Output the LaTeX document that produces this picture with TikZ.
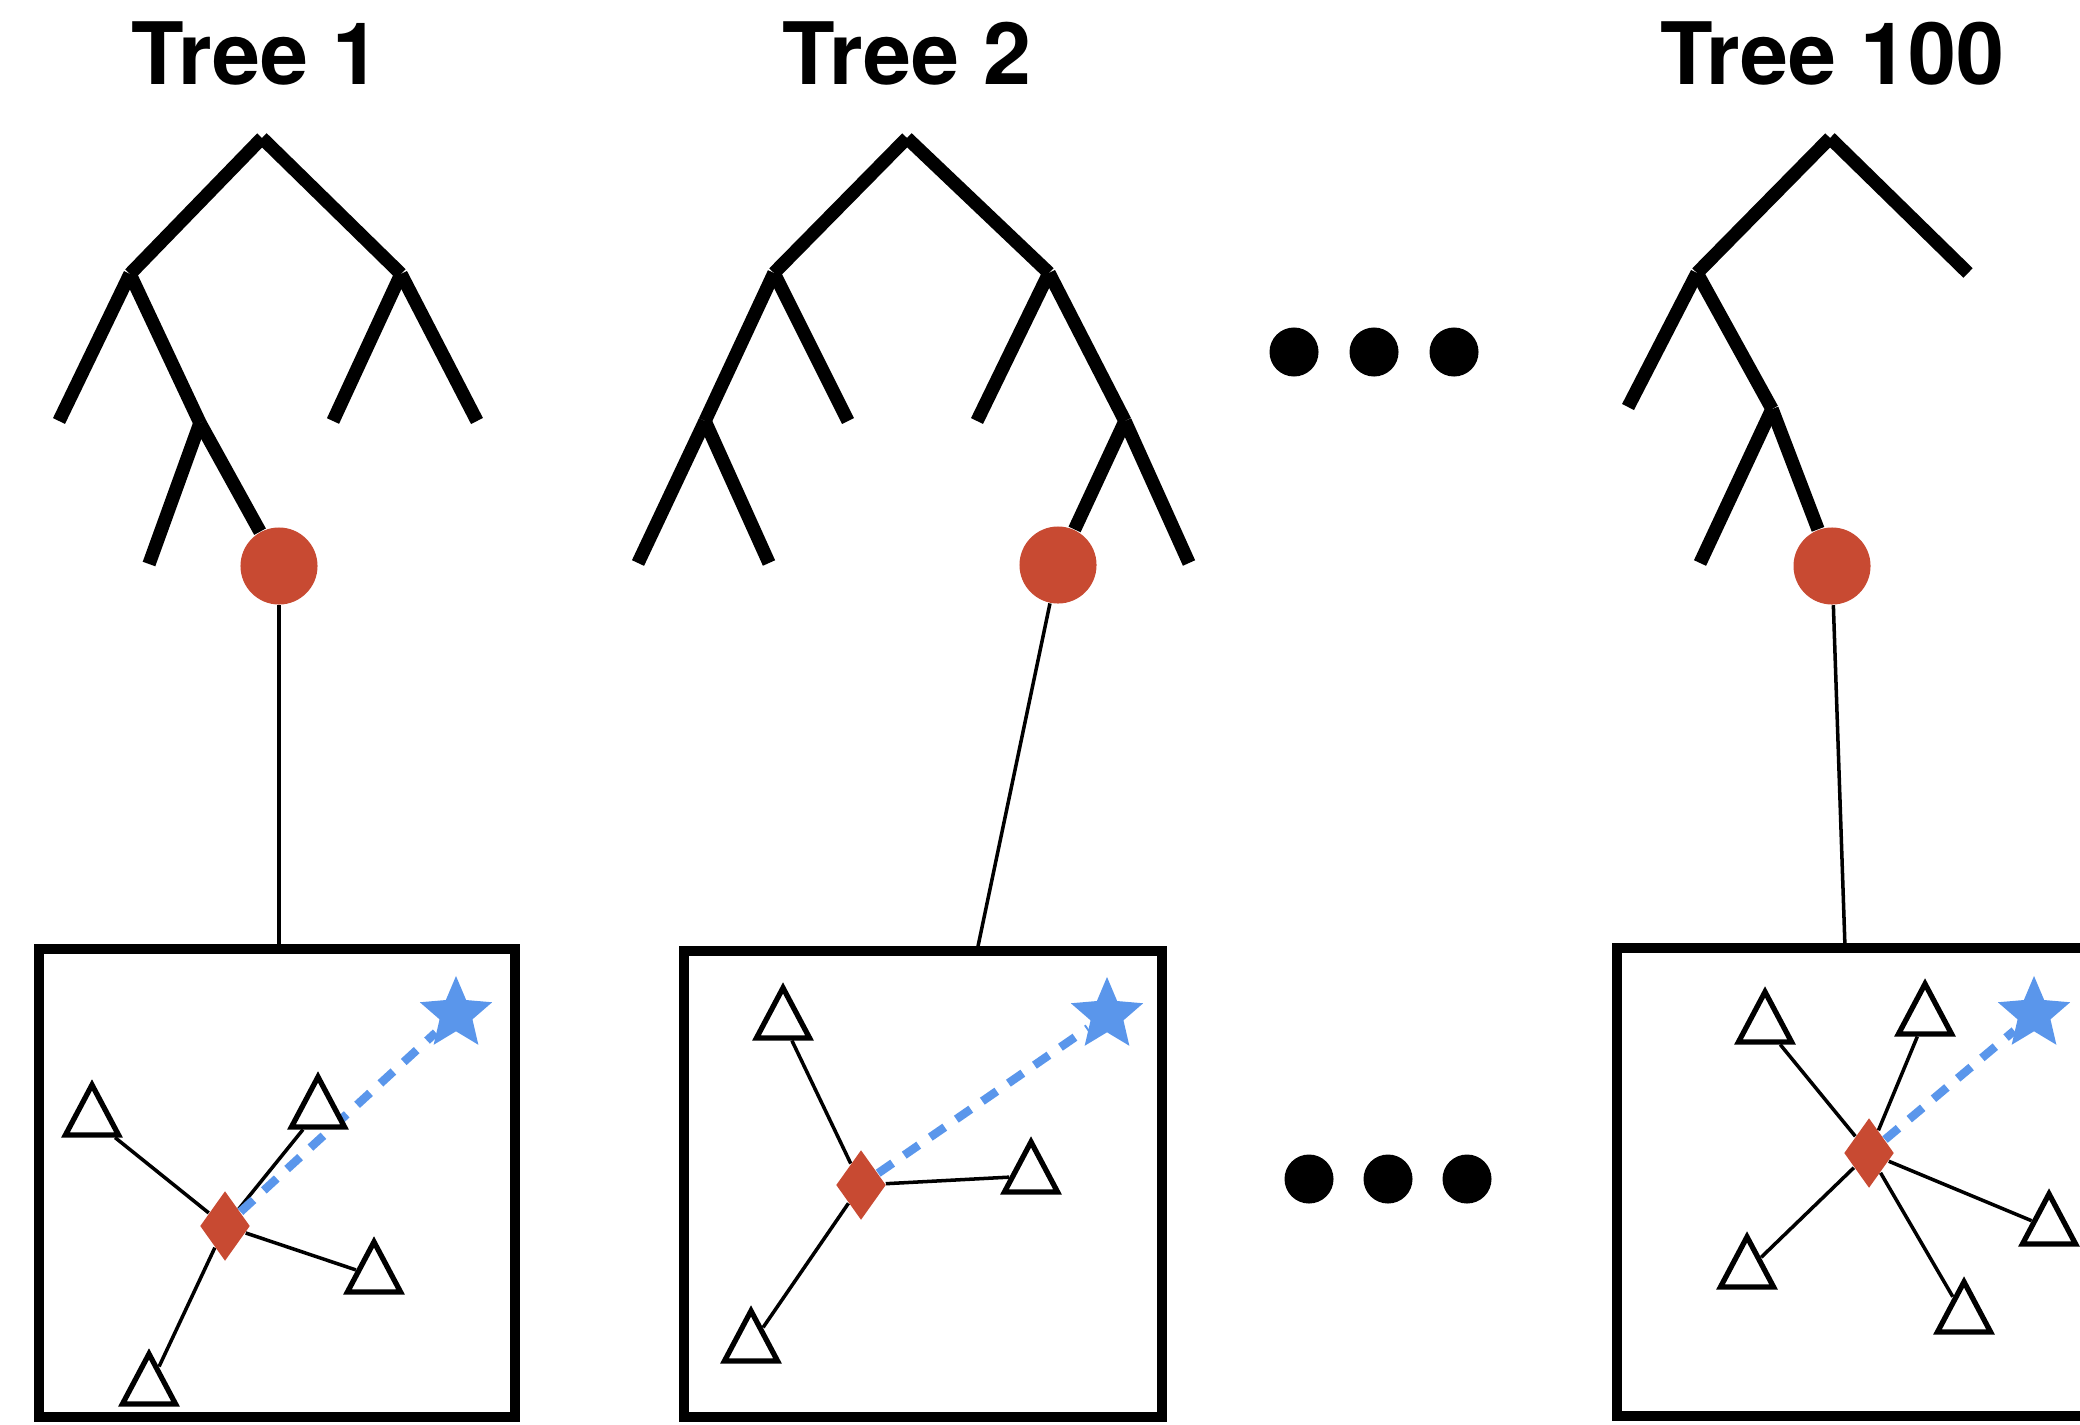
\documentclass[tikz,border=0pt]{standalone}
\usepackage{fontspec}
\setmainfont{TeX Gyre Heros}
\usetikzlibrary{shapes.geometric,backgrounds}
\definecolor{nodered}{RGB}{200,74,50}
\definecolor{starblue}{RGB}{90,150,235}
\begin{document}
\begin{tikzpicture}[x=0.01cm, y=-0.01cm,
  treeedge/.style={line width=3.8pt, line cap=butt},
  link/.style={line width=1pt},
  nnode/.style={circle, fill=nodered, minimum size=0.77cm, inner sep=0pt},
  fbox/.style={draw, line width=2.9pt, inner sep=0pt},
  tri/.style={isosceles triangle, shape border rotate=90, isosceles triangle stretches,
    minimum width=0.53cm, minimum height=0.5cm, inner sep=0pt, draw, fill=white,
    line width=1.5pt, anchor=apex},
  dia/.style={diamond, fill=nodered, minimum width=0.5cm, minimum height=0.7cm, inner sep=0pt},
  starst/.style={star, star points=5, star point ratio=2.2, fill=starblue, minimum size=0.76cm, inner sep=0pt},
  dashlink/.style={draw=starblue, line width=2.4pt, dash pattern=on 5pt off 4pt},
  dotst/.style={circle, fill=black, minimum size=0.49cm, inner sep=0pt},
  title/.style={anchor=base, font=\fontsize{24.5pt}{29pt}\selectfont\bfseries, inner sep=0pt}]
\useasboundingbox (0,0) rectangle (2080,1424);
\begin{scope}
\clip (0,0) rectangle (2080,1424);

% titles
\node[title] (h1) at (256,84) {Tree 1};
\node[title] (h2) at (907,84) {Tree 2};
\node[title] (h3) at (1832,84) {Tree 100};

% ---------- Tree 1 ----------
\coordinate (r1) at (262,138);
\coordinate (a1) at (130,274);
\coordinate (b1n) at (401,274);
\coordinate (l1) at (59,421);
\coordinate (m1) at (200,423);
\coordinate (l2) at (149,564);
\coordinate (l3) at (333,421);
\coordinate (l4) at (477,421);
\draw[treeedge] (r1) -- (a1);
\draw[treeedge] (r1) -- (b1n);
\draw[treeedge] (a1) -- (l1);
\draw[treeedge] (a1) -- (m1);
\draw[treeedge] (m1) -- (l2);
\draw[treeedge] (b1n) -- (l3);
\draw[treeedge] (b1n) -- (l4);
\node[nnode] (c1) at (279,566) {};
\draw[treeedge] (m1) -- (c1);

% ---------- Tree 2 ----------
\coordinate (r2) at (907,138);
\coordinate (a2) at (774,273);
\coordinate (b2n) at (1049,273);
\coordinate (m2a) at (705,421);
\coordinate (l5) at (848,421);
\coordinate (l6) at (638,563);
\coordinate (l7) at (769,563);
\coordinate (l8) at (977,421);
\coordinate (m2b) at (1125,421);
\coordinate (l9) at (1189,563);
\draw[treeedge] (r2) -- (a2);
\draw[treeedge] (r2) -- (b2n);
\draw[treeedge] (a2) -- (m2a);
\draw[treeedge] (a2) -- (l5);
\draw[treeedge] (m2a) -- (l6);
\draw[treeedge] (m2a) -- (l7);
\draw[treeedge] (b2n) -- (l8);
\draw[treeedge] (b2n) -- (m2b);
\draw[treeedge] (m2b) -- (l9);
\node[nnode] (c2) at (1058,565) {};
\draw[treeedge] (m2b) -- (c2);

% ---------- Tree 100 ----------
\coordinate (r3) at (1830,138);
\coordinate (a3) at (1697,273);
\coordinate (l10) at (1968,273);
\coordinate (l11) at (1628,407);
\coordinate (m3) at (1772,409);
\coordinate (l12) at (1700,563);
\draw[treeedge] (r3) -- (a3);
\draw[treeedge] (r3) -- (l10);
\draw[treeedge] (a3) -- (l11);
\draw[treeedge] (a3) -- (m3);
\draw[treeedge] (m3) -- (l12);
\node[nnode] (c3) at (1832,566) {};
\draw[treeedge] (m3) -- (c3);

% ellipsis dots
\node[dotst] (dt1) at (1294,352) {};
\node[dotst] (dt2) at (1374,352) {};
\node[dotst] (dt3) at (1454,352) {};
\node[dotst] (db1) at (1309,1179) {};
\node[dotst] (db2) at (1388,1179) {};
\node[dotst] (db3) at (1467,1179) {};

% ---------- boxes ----------
\node[fbox, minimum width=4.76cm, minimum height=4.68cm] (bx1) at (277,1183) {};
\node[fbox, minimum width=4.78cm, minimum height=4.66cm] (bx2) at (923,1184) {};
\node[fbox, minimum width=4.77cm, minimum height=4.68cm] (bx3) at (1855.5,1182) {};
\coordinate (e1) at (279,949);
\coordinate (e2) at (977,951);
\coordinate (e3) at (1845,948);
\draw[link] (c1) -- (e1);
\draw[link] (c2) -- (e2);
\draw[link] (c3) -- (e3);

% box 1 contents
\node[tri] (t1a) at (92,1078) {};
\node[tri] (t1b) at (318,1070) {};
\node[tri] (t1c) at (374,1235) {};
\node[tri] (t1d) at (149,1347) {};
\node[dia] (d1) at (225,1226) {};
\node[starst] (s1) at (456,1014) {};

% box 2 contents
\node[tri] (t2a) at (783,981) {};
\node[tri] (t2b) at (1031,1135) {};
\node[tri] (t2c) at (751,1304) {};
\node[dia] (d2) at (861,1185) {};
\node[starst] (s2) at (1107,1015) {};

% box 100 contents
\node[tri] (t3a) at (1765,985) {};
\node[tri] (t3b) at (1925,977) {};
\node[tri] (t3c) at (2049,1187) {};
\node[tri] (t3d) at (1747,1230) {};
\node[tri] (t3e) at (1964,1275) {};
\node[dia] (d3) at (1869,1153) {};
\node[starst] (s3) at (2034,1014) {};
\end{scope}

\begin{pgfonlayer}{background}
\draw[link] (d1) -- (t1a);
\draw[link] (d1) -- (t1b);
\draw[link] (d1) -- (t1c);
\draw[link] (d1) -- (t1d);
\draw[dashlink] (d1) -- (s1);
\draw[link] (d2) -- (t2a);
\draw[link] (d2) -- (t2b);
\draw[link] (d2) -- (t2c);
\draw[dashlink] (d2) -- (s2);
\draw[link] (d3) -- (t3a);
\draw[link] (d3) -- (t3b);
\draw[link] (d3) -- (t3c);
\draw[link] (d3) -- (t3d);
\draw[link] (d3) -- (t3e);
\draw[dashlink] (d3) -- (s3);
\end{pgfonlayer}
\end{tikzpicture}
\end{document}
